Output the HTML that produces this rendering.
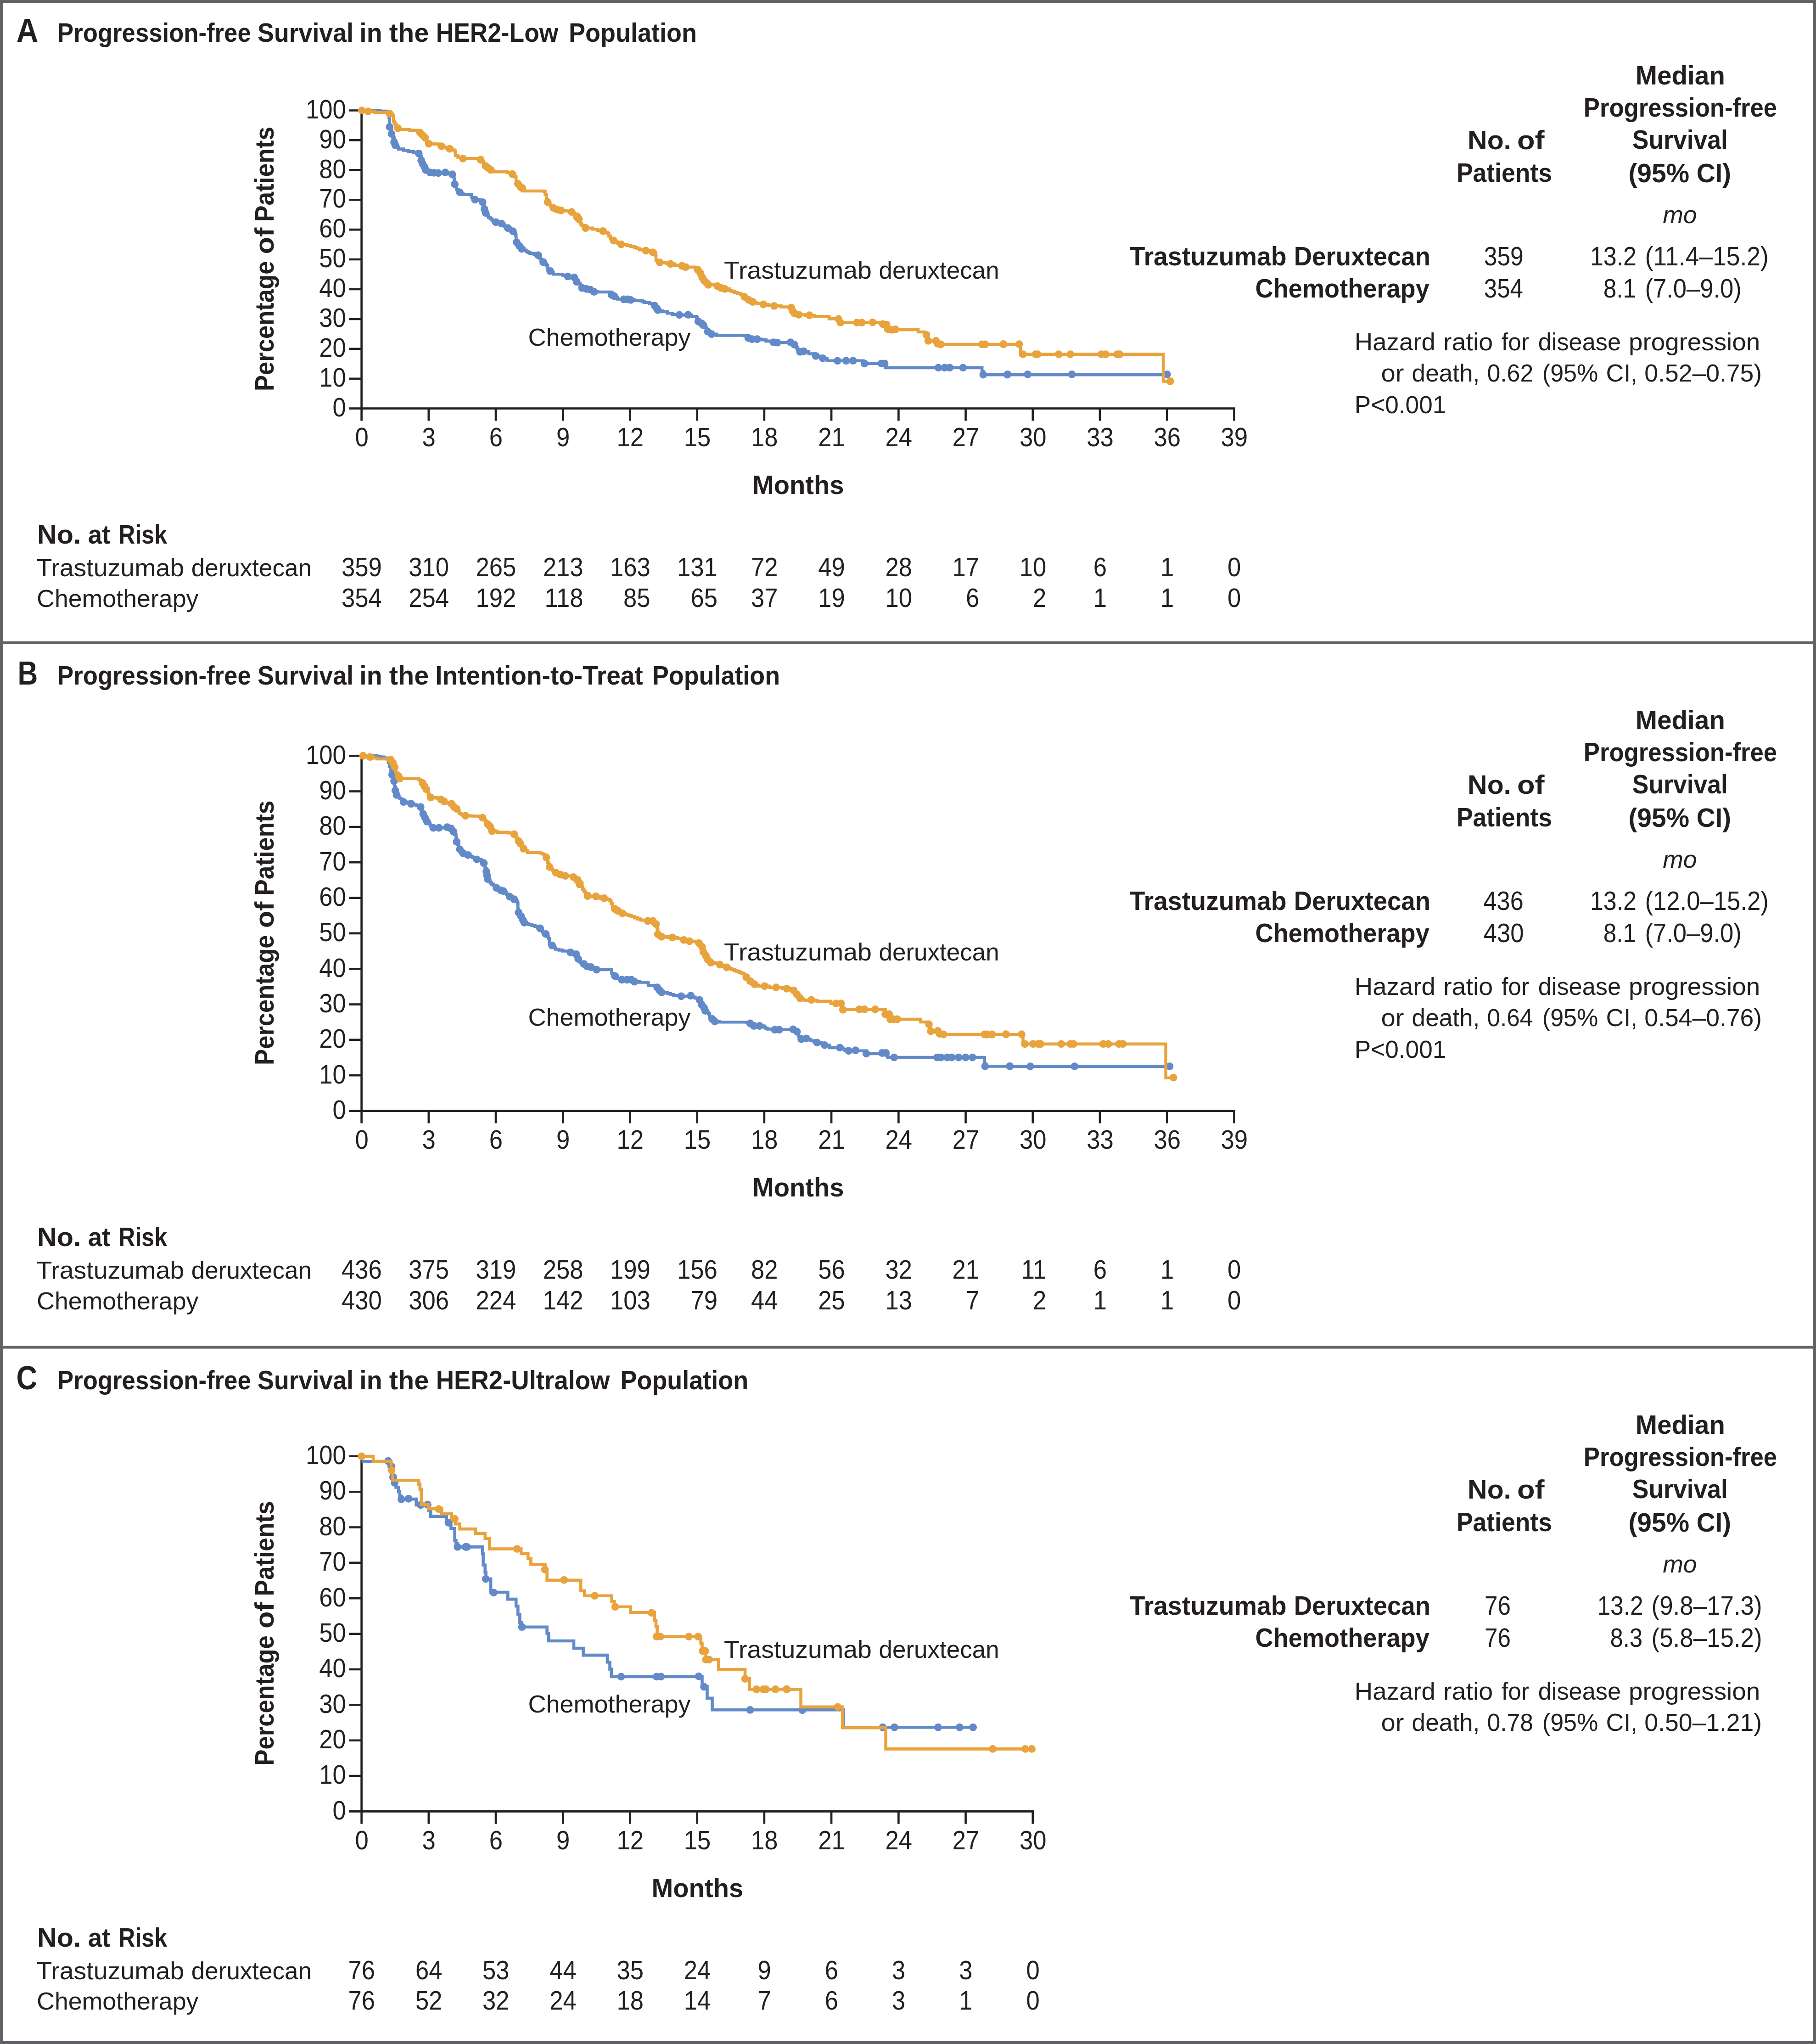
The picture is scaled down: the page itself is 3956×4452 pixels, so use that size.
<!DOCTYPE html>
<html lang="en"><head><meta charset="utf-8"><title>Progression-free Survival</title>
<style>html,body{margin:0;padding:0;background:#fff}body{width:3956px;height:4452px;overflow:hidden}</style>
</head><body>
<svg width="3956" height="4452" viewBox="0 0 3956 4452" font-family="'Liberation Sans', sans-serif" fill="#231f20" style="display:block">
<rect x="0" y="0" width="3956" height="4452" fill="#fff"/>
<path d="M3.1 3.1H3952.9V4448.9H3.1ZM0 1400H3956M0 2934.4H3956" stroke="#606266" stroke-width="6.2" fill="none"/>
<path d="M787.6 238.2V916.6M760.3 889.6H2690.8M760.3 240.5H787.6M760.3 305.4H787.6M760.3 370.3H787.6M760.3 435.2H787.6M760.3 500.1H787.6M760.3 565.0H787.6M760.3 630.0H787.6M760.3 694.9H787.6M760.3 759.8H787.6M760.3 824.7H787.6M933.8 889.6V916.6M1080.0 889.6V916.6M1226.3 889.6V916.6M1372.5 889.6V916.6M1518.7 889.6V916.6M1664.9 889.6V916.6M1811.1 889.6V916.6M1957.4 889.6V916.6M2103.6 889.6V916.6M2249.8 889.6V916.6M2396.0 889.6V916.6M2542.2 889.6V916.6M2688.5 889.6V916.6" stroke="#231f20" stroke-width="4.6" fill="none"/>
<path d="M788.3 240.6H818.5H828.2V242.0H843.3V244.8H845.4V250.3H847.5V255.8H848.8V276.4H850.9V284.0H853.0V291.6H855.7V299.8H858.5V309.5H861.2V316.4H864.7V320.5H868.1V324.6H879.1V327.4H890.1V330.1H901.1V332.3H912.2V334.3H914.9V341.1H917.7V349.4H920.4V356.3H922.5V359.8H924.5V363.2H927.3V370.1H932.1V372.9H936.9V375.6H945.2V376.4H954.8V376.9H961.7H970.0H978.2V378.3H985.1V379.7H987.2V385.2H989.3V390.7H990.6V401.2H992.7V406.9H994.8V412.7H998.2V415.8H1001.6V418.8H1005.0V421.2H1008.5V423.7H1022.3V424.3H1027.8V430.6H1031.2V432.7H1034.7V434.8H1044.3V436.1H1047.8V438.2H1051.2V440.3H1054.0V448.5H1055.3V455.4H1058.1V463.7H1060.8V468.5H1063.6V473.3H1067.8V476.8H1071.9V480.2H1076.0V482.0H1080.1V483.8H1092.5V487.1H1096.0V489.9H1099.4V492.6H1102.8V494.6H1106.3V496.7H1111.8V500.1H1117.3V503.6H1120.0V507.8H1122.8V511.9H1124.2V522.9H1125.5V527.8H1128.2V531.5H1131.0V535.3H1133.8V538.7H1136.6V542.1H1141.4V544.9H1146.2V547.6H1150.3V549.7H1154.4V551.8H1163.3V553.8H1172.3V555.9H1174.4V560.0H1176.5V564.2H1180.0V567.6H1183.4V571.0H1186.8V574.5H1190.2V577.9H1193.0V586.2H1198.5V590.3H1202.0V593.8H1205.4V597.2H1226.0V599.4H1237.0V602.2H1250.8V604.1H1253.5V608.9H1256.3V613.7H1260.2V618.2H1264.0V622.7H1267.9V627.2H1277.5V629.4H1285.8V630.8H1289.9V633.1H1294.1V635.5H1302.3V636.0H1327.1H1332.6V642.4H1338.1V645.1H1341.5V648.3H1345.0V651.5H1358.8V652.0H1367.0H1373.9V653.4H1382.2V654.8H1395.9V655.3H1400.1V657.1H1404.2V658.9H1415.2V661.6H1420.7V663.7H1426.2V665.8H1430.3V671.3H1433.1V675.4H1437.9V677.2H1442.7V679.0H1453.7V682.3H1464.8V685.0H1479.9V685.9H1492.3V686.4H1499.2H1506.1V689.2H1517.1V691.9H1519.2V696.0H1521.2V700.2H1524.7V702.2H1528.1V704.3H1532.2V708.4H1537.7V714.0H1539.8V718.1H1541.9V722.2H1546.0V725.0H1550.1V727.7H1561.1V730.5H1621.7V731.3H1625.8V733.6H1630.0V736.0H1638.2V738.7H1649.2H1658.9V740.1H1668.5V742.9H1679.5V744.2H1685.0V745.6H1693.3V746.2H1704.3H1718.1H1722.2H1726.3V748.4H1730.5V750.6H1734.6V756.6H1736.7V760.8H1738.7V764.9H1742.8V766.3H1750.0H1759.2H1761.9V770.6H1771.6V772.0H1777.1V775.3H1782.6V776.1H1787.4V778.2H1792.2V780.3H1800.5V781.6H1801.9V785.8H1815.6H1824.4H1843.2H1858.3H1876.2H1880.3V788.5H1883.1V791.8H1898.2H1920.3H1927.1H1928.5V800.9H2030.4H2044.2H2057.9H2068.9H2097.9H2137.8H2139.2V809.2H2141.9V816.1H2168.1H2194.2H2200.0H2542.3" stroke="#6289c8" stroke-width="6.6" fill="none"/>
<g fill="#6289c8"><circle cx="848.8" cy="276.4" r="8.4"/><circle cx="853.0" cy="291.6" r="8.4"/><circle cx="858.5" cy="309.5" r="8.4"/><circle cx="861.2" cy="316.4" r="8.4"/><circle cx="912.2" cy="334.3" r="8.4"/><circle cx="917.7" cy="349.4" r="8.4"/><circle cx="920.4" cy="356.3" r="8.4"/><circle cx="924.5" cy="363.2" r="8.4"/><circle cx="927.3" cy="370.1" r="8.4"/><circle cx="936.9" cy="375.6" r="8.4"/><circle cx="945.2" cy="376.4" r="8.4"/><circle cx="954.8" cy="376.9" r="8.4"/><circle cx="970.0" cy="375.6" r="8.4"/><circle cx="985.1" cy="379.7" r="8.4"/><circle cx="990.6" cy="401.2" r="8.4"/><circle cx="1001.6" cy="418.8" r="8.4"/><circle cx="1034.7" cy="434.8" r="8.4"/><circle cx="1051.2" cy="440.3" r="8.4"/><circle cx="1055.3" cy="455.4" r="8.4"/><circle cx="1058.1" cy="463.7" r="8.4"/><circle cx="1080.1" cy="483.8" r="8.4"/><circle cx="1092.5" cy="487.1" r="8.4"/><circle cx="1106.3" cy="496.7" r="8.4"/><circle cx="1117.3" cy="503.6" r="8.4"/><circle cx="1125.5" cy="527.8" r="8.4"/><circle cx="1131.0" cy="535.3" r="8.4"/><circle cx="1136.6" cy="542.1" r="8.4"/><circle cx="1172.3" cy="555.9" r="8.4"/><circle cx="1183.4" cy="571.0" r="8.4"/><circle cx="1198.5" cy="590.3" r="8.4"/><circle cx="1237.0" cy="602.2" r="8.4"/><circle cx="1250.8" cy="604.1" r="8.4"/><circle cx="1256.3" cy="613.7" r="8.4"/><circle cx="1267.9" cy="627.2" r="8.4"/><circle cx="1277.5" cy="629.4" r="8.4"/><circle cx="1285.8" cy="630.8" r="8.4"/><circle cx="1294.1" cy="635.5" r="8.4"/><circle cx="1332.6" cy="642.4" r="8.4"/><circle cx="1338.1" cy="645.1" r="8.4"/><circle cx="1358.8" cy="652.0" r="8.4"/><circle cx="1367.0" cy="652.0" r="8.4"/><circle cx="1373.9" cy="653.4" r="8.4"/><circle cx="1426.2" cy="665.8" r="8.4"/><circle cx="1430.3" cy="671.3" r="8.4"/><circle cx="1433.1" cy="675.4" r="8.4"/><circle cx="1479.9" cy="685.9" r="8.4"/><circle cx="1499.2" cy="685.6" r="8.4"/><circle cx="1521.2" cy="700.2" r="8.4"/><circle cx="1528.1" cy="704.3" r="8.4"/><circle cx="1532.2" cy="708.4" r="8.4"/><circle cx="1541.9" cy="722.2" r="8.4"/><circle cx="1550.1" cy="727.7" r="8.4"/><circle cx="1630.0" cy="736.0" r="8.4"/><circle cx="1638.2" cy="738.7" r="8.4"/><circle cx="1649.2" cy="738.7" r="8.4"/><circle cx="1685.0" cy="745.6" r="8.4"/><circle cx="1693.3" cy="746.2" r="8.4"/><circle cx="1722.2" cy="745.6" r="8.4"/><circle cx="1730.5" cy="750.6" r="8.4"/><circle cx="1742.8" cy="766.3" r="8.4"/><circle cx="1750.9" cy="765.1" r="8.4"/><circle cx="1777.1" cy="775.3" r="8.4"/><circle cx="1792.2" cy="780.3" r="8.4"/><circle cx="1824.4" cy="785.8" r="8.4"/><circle cx="1843.2" cy="785.8" r="8.4"/><circle cx="1858.3" cy="785.5" r="8.4"/><circle cx="1883.1" cy="791.8" r="8.4"/><circle cx="1920.3" cy="791.8" r="8.4"/><circle cx="1927.1" cy="791.8" r="8.4"/><circle cx="2044.2" cy="800.9" r="8.4"/><circle cx="2057.9" cy="800.9" r="8.4"/><circle cx="2068.9" cy="800.9" r="8.4"/><circle cx="2097.9" cy="800.9" r="8.4"/><circle cx="2141.9" cy="816.1" r="8.4"/><circle cx="2194.2" cy="816.1" r="8.4"/><circle cx="2194.9" cy="815.4" r="8.4"/><circle cx="2238.7" cy="815.4" r="8.4"/><circle cx="2335.0" cy="815.4" r="8.4"/><circle cx="2542.3" cy="815.4" r="8.4"/></g>
<path d="M788.3 240.6H802.0V242.6H815.8V245.3H843.3V246.2H848.8V247.5H854.3V251.7H857.1V264.1H859.9V269.6H862.6V275.1H865.1V278.5H867.6V281.9H875.0H892.2V283.7H909.4V285.5H914.9V288.8H920.4V294.3H925.9V299.8H928.7V308.1H934.2V313.1H945.2V313.6H956.2V316.9H961.7V318.6H967.2V320.5H972.7V322.4H979.6V324.1H984.5V326.5H989.3V328.8H992.0V338.4H997.5V342.5H1008.5V345.3H1019.5H1044.3H1047.1V348.0H1049.8V351.4H1052.6V354.9H1055.3V358.4H1058.1V361.8H1063.6V365.9H1069.1V370.1H1072.5V372.1H1076.0V374.2H1104.9V375.6H1115.9V379.1H1121.4V385.2H1124.2V396.2H1128.3V400.3H1131.0V403.8H1133.8V407.2H1137.9V410.0V416.0H1184.7V416.9H1187.5V423.7H1190.2V434.8H1193.0V440.3H1195.8V444.4H1198.5V448.5H1202.0V450.6H1205.4V452.7H1213.6V456.2H1221.9V458.2H1231.5V459.5H1245.3V461.7H1248.8V464.0H1252.2V466.4H1257.7V471.9H1260.5V481.6H1263.9V486.4H1267.3V491.2H1271.4V493.9H1275.6V496.7H1291.3V499.2H1302.3V501.9H1313.3V503.3H1318.2V506.1H1323.0V508.8H1326.4V514.3H1329.8V519.8H1333.2V521.9H1336.7V524.0H1340.8V526.8H1345.0V529.5H1353.2V532.2H1365.6V535.0H1373.9V537.0H1382.2V539.1H1387.7V541.6H1393.2V544.1H1406.9V546.0H1414.5V547.8H1422.1V549.6H1427.6V555.6H1429.0V566.7H1433.1V569.2H1437.2V571.6H1451.0V573.5H1460.6V574.9H1470.3V577.7H1485.4V579.0H1493.7V581.8H1506.1H1514.3V583.2H1519.8V587.3H1522.5V590.8H1525.3V594.2H1527.4V599.0H1529.5V603.8H1531.5V607.2H1533.6V610.7H1539.1V616.2H1543.2V620.3H1552.9H1562.5V623.1H1566.7V625.2H1570.8V627.2H1579.0V629.4H1588.7V632.7H1594.2V634.8H1599.7V636.9H1606.6V639.0H1613.4V641.0H1617.6V643.8H1621.7V646.5H1626.5V650.0H1631.3V653.4H1635.4V655.5H1639.6V657.5H1644.4V659.5H1649.2V661.6H1663.0V663.0H1674.0V665.8H1686.4V666.3H1701.5V668.5H1723.6V669.9H1726.3V676.8H1730.5V682.3H1740.1V685.6H1750.0H1755.1V687.2H1763.3H1774.3V689.4H1804.6H1806.0V694.4H1821.1H1826.7V694.9H1828.8V698.8H1830.8V702.6H1843.2H1866.6H1877.6H1890.0H1901.0H1914.8H1923.0V705.9H1931.3V707.3H1934.0V716.9H1942.3V718.3H1950.6H1975.3H1998.7H2000.1V723.0H2011.1H2014.5V726.1H2018.0V729.3H2020.8V736.2H2022.1V742.3H2030.4V743.1H2038.7H2042.8V748.6H2049.7V750.0H2085.5H2139.2H2146.0H2186.0H2200.0H2220.2H2223.0V771.6H2228.5H2534.1V830.5H2549.2" stroke="#e8a33d" stroke-width="6.6" fill="none"/>
<g fill="#e8a33d"><circle cx="788.3" cy="240.6" r="8.4"/><circle cx="802.0" cy="242.6" r="8.4"/><circle cx="848.8" cy="247.5" r="8.4"/><circle cx="866.7" cy="279.2" r="8.4"/><circle cx="914.9" cy="288.8" r="8.4"/><circle cx="920.4" cy="294.3" r="8.4"/><circle cx="925.9" cy="299.8" r="8.4"/><circle cx="934.2" cy="313.1" r="8.4"/><circle cx="961.7" cy="318.6" r="8.4"/><circle cx="979.6" cy="324.1" r="8.4"/><circle cx="1008.5" cy="345.3" r="8.4"/><circle cx="1047.1" cy="348.0" r="8.4"/><circle cx="1058.1" cy="361.8" r="8.4"/><circle cx="1063.6" cy="365.9" r="8.4"/><circle cx="1069.1" cy="370.1" r="8.4"/><circle cx="1115.9" cy="379.1" r="8.4"/><circle cx="1128.3" cy="400.3" r="8.4"/><circle cx="1133.8" cy="407.2" r="8.4"/><circle cx="1137.9" cy="410.0" r="8.4"/><circle cx="1193.0" cy="440.3" r="8.4"/><circle cx="1205.4" cy="452.7" r="8.4"/><circle cx="1213.6" cy="456.2" r="8.4"/><circle cx="1221.9" cy="458.2" r="8.4"/><circle cx="1245.3" cy="461.7" r="8.4"/><circle cx="1257.7" cy="471.9" r="8.4"/><circle cx="1275.6" cy="496.7" r="8.4"/><circle cx="1256.9" cy="473.0" r="8.4"/><circle cx="1261.0" cy="477.2" r="8.4"/><circle cx="1275.6" cy="496.4" r="8.4"/><circle cx="1313.3" cy="503.3" r="8.4"/><circle cx="1336.7" cy="524.0" r="8.4"/><circle cx="1353.2" cy="532.2" r="8.4"/><circle cx="1406.9" cy="546.0" r="8.4"/><circle cx="1422.1" cy="549.6" r="8.4"/><circle cx="1437.2" cy="571.6" r="8.4"/><circle cx="1460.6" cy="574.9" r="8.4"/><circle cx="1485.4" cy="579.0" r="8.4"/><circle cx="1493.7" cy="581.8" r="8.4"/><circle cx="1519.8" cy="587.3" r="8.4"/><circle cx="1525.3" cy="594.2" r="8.4"/><circle cx="1529.5" cy="603.8" r="8.4"/><circle cx="1533.6" cy="610.7" r="8.4"/><circle cx="1539.1" cy="616.2" r="8.4"/><circle cx="1543.2" cy="620.3" r="8.4"/><circle cx="1562.5" cy="623.1" r="8.4"/><circle cx="1570.8" cy="627.2" r="8.4"/><circle cx="1579.0" cy="629.4" r="8.4"/><circle cx="1621.7" cy="646.5" r="8.4"/><circle cx="1631.3" cy="653.4" r="8.4"/><circle cx="1639.6" cy="657.5" r="8.4"/><circle cx="1663.0" cy="663.0" r="8.4"/><circle cx="1686.4" cy="666.3" r="8.4"/><circle cx="1723.6" cy="669.9" r="8.4"/><circle cx="1726.3" cy="676.8" r="8.4"/><circle cx="1730.5" cy="682.3" r="8.4"/><circle cx="1740.1" cy="685.6" r="8.4"/><circle cx="1763.3" cy="686.7" r="8.4"/><circle cx="1826.7" cy="694.9" r="8.4"/><circle cx="1830.8" cy="702.6" r="8.4"/><circle cx="1866.6" cy="702.6" r="8.4"/><circle cx="1877.6" cy="702.6" r="8.4"/><circle cx="1901.0" cy="702.1" r="8.4"/><circle cx="1923.0" cy="705.9" r="8.4"/><circle cx="1931.3" cy="707.3" r="8.4"/><circle cx="1934.0" cy="716.9" r="8.4"/><circle cx="1942.3" cy="718.3" r="8.4"/><circle cx="1950.6" cy="717.5" r="8.4"/><circle cx="2018.0" cy="729.3" r="8.4"/><circle cx="2022.1" cy="742.3" r="8.4"/><circle cx="2038.7" cy="742.3" r="8.4"/><circle cx="2042.8" cy="748.6" r="8.4"/><circle cx="2049.7" cy="750.0" r="8.4"/><circle cx="2139.2" cy="750.0" r="8.4"/><circle cx="2146.0" cy="750.0" r="8.4"/><circle cx="2186.0" cy="749.7" r="8.4"/><circle cx="2185.8" cy="749.6" r="8.4"/><circle cx="2220.2" cy="749.6" r="8.4"/><circle cx="2228.5" cy="771.6" r="8.4"/><circle cx="2256.0" cy="771.6" r="8.4"/><circle cx="2260.1" cy="771.6" r="8.4"/><circle cx="2306.4" cy="771.6" r="8.4"/><circle cx="2331.7" cy="771.6" r="8.4"/><circle cx="2399.2" cy="771.6" r="8.4"/><circle cx="2408.8" cy="771.6" r="8.4"/><circle cx="2433.6" cy="771.6" r="8.4"/><circle cx="2439.1" cy="771.6" r="8.4"/><circle cx="2549.2" cy="830.5" r="8.4"/></g>
<path d="M787.6 1644.0V2446.6M760.3 2419.6H2690.8M760.3 1646.3H787.6M760.3 1723.6H787.6M760.3 1801.0H787.6M760.3 1878.3H787.6M760.3 1955.6H787.6M760.3 2032.9H787.6M760.3 2110.3H787.6M760.3 2187.6H787.6M760.3 2264.9H787.6M760.3 2342.3H787.6M933.8 2419.6V2446.6M1080.0 2419.6V2446.6M1226.3 2419.6V2446.6M1372.5 2419.6V2446.6M1518.7 2419.6V2446.6M1664.9 2419.6V2446.6M1811.1 2419.6V2446.6M1957.4 2419.6V2446.6M2103.6 2419.6V2446.6M2249.8 2419.6V2446.6M2396.0 2419.6V2446.6M2542.2 2419.6V2446.6M2688.5 2419.6V2446.6" stroke="#231f20" stroke-width="4.6" fill="none"/>
<path d="M791.0 1646.2H821.3V1647.5H829.6V1648.9H836.5V1651.0H843.3V1653.0H846.0V1661.3H848.8V1669.6H851.5V1678.5H854.3V1687.5H856.4V1694.3H858.5V1701.2H859.8V1713.6H861.2V1721.9H864.0V1731.5H867.5V1735.7H870.9V1739.8H875.0V1743.2H879.1V1746.7H888.8V1749.4H895.6V1750.8H901.2V1752.8H906.7V1754.9H916.3V1757.7H917.7V1765.9H919.8V1769.3H921.8V1772.8H923.8V1776.9H925.9V1781.1H928.0V1785.2H930.1V1789.3H933.5V1793.4H936.9V1797.6H940.3V1800.3H943.8V1803.1H956.2H967.2H974.1H982.4V1804.5H985.1V1808.0H987.9V1811.4H990.6V1817.6H993.4V1823.7H994.8V1833.4H996.8V1839.6H998.9V1845.8H1001.6V1849.9H1005.0V1854.1H1008.5V1858.2H1014.0V1860.2H1019.5V1862.3H1024.3V1865.0H1029.2V1867.8H1034.0V1869.8H1038.8V1871.9H1048.4V1874.7H1054.0V1880.2H1056.7V1891.2H1059.5V1898.1H1060.8V1906.3H1062.2V1914.6H1065.0V1918.8H1067.7V1922.9H1071.2V1925.7H1074.6V1928.4H1078.0V1931.2H1081.5V1933.9H1086.3V1936.7H1091.1V1939.4H1096.6V1940.8H1100.0V1944.2H1103.5V1947.6H1107.0V1950.3H1110.4V1953.1H1115.2V1955.9H1120.0V1958.7H1123.5V1962.8H1126.9V1966.9H1128.3V1980.7H1129.7V1987.6H1132.5V1991.7H1135.2V1995.8H1137.2V1999.9H1139.3V2004.1H1142.1V2009.6H1146.9V2011.7H1151.7V2013.7H1158.6V2015.8H1165.5V2017.9H1171.0V2020.0H1176.5V2022.0H1179.2V2026.1H1182.0V2030.2H1185.5V2032.3H1188.9V2034.4H1191.7V2039.2H1194.4V2044.0H1197.1V2055.0H1202.6V2059.2H1206.0V2063.3H1209.5V2067.4H1217.8V2069.4H1226.0V2071.5H1242.6V2074.3H1248.8V2076.4H1254.9V2078.4H1257.1V2083.0H1259.3V2087.7H1261.6V2092.3H1263.8V2096.9H1272.0V2099.6H1275.5V2102.3H1278.9V2105.1H1287.2V2106.5H1290.7V2108.6H1294.1V2110.6H1299.6V2112.0H1313.3H1329.8H1332.6V2120.3H1336.0V2123.1H1339.5V2125.8H1345.0V2131.3H1354.6V2134.0H1365.6H1375.3H1378.8V2136.1H1382.2V2138.2H1393.2V2139.5H1409.7V2140.9H1412.4V2146.4H1426.2H1431.7V2150.6H1434.5V2154.0H1437.2V2157.4H1441.4V2161.6H1453.7V2164.3H1460.6V2166.4H1467.5V2168.4H1484.0V2169.8H1496.4H1504.7H1509.5V2171.9H1514.3V2174.0H1519.2V2176.1H1524.0V2178.1H1526.0V2182.9H1528.1V2187.7H1530.8V2191.1H1533.6V2194.6H1536.3V2201.5H1539.8V2204.9H1543.2V2208.4H1546.0V2216.6H1551.5V2219.4H1557.0V2224.9H1566.6V2226.3H1627.2V2227.1H1634.1V2229.0H1638.2V2231.8H1642.3V2234.5H1654.7H1664.4V2237.3H1667.8V2239.4H1671.3V2241.4H1687.8V2242.8H1697.4H1712.6H1727.7H1731.8V2244.9H1736.0V2246.9H1738.0V2252.4H1740.1V2257.9H1745.6V2263.4H1750.0H1756.4V2263.5H1764.7H1766.1V2266.8H1772.9V2268.9H1779.8V2270.9H1789.5V2273.7H1796.4V2276.4H1806.0V2277.8H1807.4V2281.9H1821.1H1829.4H1834.9V2284.7H1840.4V2287.4H1848.7V2288.8H1863.8H1881.7H1887.2V2294.9H1903.7H1921.6H1929.9H1932.0V2298.8H1934.0V2302.6H1947.8V2303.1H1975.3H2143.3H2144.7V2316.3H2146.0V2322.4H2168.1H2200.0H2202.3V2322.6H2547.9" stroke="#6289c8" stroke-width="6.6" fill="none"/>
<g fill="#6289c8"><circle cx="854.3" cy="1687.5" r="8.4"/><circle cx="858.5" cy="1701.2" r="8.4"/><circle cx="861.2" cy="1721.9" r="8.4"/><circle cx="864.0" cy="1731.5" r="8.4"/><circle cx="879.1" cy="1746.7" r="8.4"/><circle cx="895.6" cy="1750.8" r="8.4"/><circle cx="916.3" cy="1757.7" r="8.4"/><circle cx="921.8" cy="1772.8" r="8.4"/><circle cx="925.9" cy="1781.1" r="8.4"/><circle cx="930.1" cy="1789.3" r="8.4"/><circle cx="943.8" cy="1803.1" r="8.4"/><circle cx="956.2" cy="1803.1" r="8.4"/><circle cx="974.1" cy="1801.7" r="8.4"/><circle cx="982.4" cy="1804.5" r="8.4"/><circle cx="987.9" cy="1811.4" r="8.4"/><circle cx="994.8" cy="1833.4" r="8.4"/><circle cx="1001.6" cy="1849.9" r="8.4"/><circle cx="1008.5" cy="1858.2" r="8.4"/><circle cx="1019.5" cy="1862.3" r="8.4"/><circle cx="1038.8" cy="1871.9" r="8.4"/><circle cx="1054.0" cy="1880.2" r="8.4"/><circle cx="1059.5" cy="1898.1" r="8.4"/><circle cx="1060.8" cy="1906.3" r="8.4"/><circle cx="1062.2" cy="1914.6" r="8.4"/><circle cx="1081.5" cy="1933.9" r="8.4"/><circle cx="1091.1" cy="1939.4" r="8.4"/><circle cx="1096.6" cy="1940.8" r="8.4"/><circle cx="1110.4" cy="1953.1" r="8.4"/><circle cx="1120.0" cy="1958.7" r="8.4"/><circle cx="1129.7" cy="1987.6" r="8.4"/><circle cx="1135.2" cy="1995.8" r="8.4"/><circle cx="1139.3" cy="2004.1" r="8.4"/><circle cx="1142.1" cy="2009.6" r="8.4"/><circle cx="1176.5" cy="2022.0" r="8.4"/><circle cx="1188.9" cy="2034.4" r="8.4"/><circle cx="1202.6" cy="2059.2" r="8.4"/><circle cx="1242.6" cy="2074.3" r="8.4"/><circle cx="1254.9" cy="2078.4" r="8.4"/><circle cx="1255.5" cy="2079.0" r="8.4"/><circle cx="1259.6" cy="2088.6" r="8.4"/><circle cx="1272.0" cy="2099.6" r="8.4"/><circle cx="1278.9" cy="2105.1" r="8.4"/><circle cx="1287.2" cy="2106.5" r="8.4"/><circle cx="1299.6" cy="2112.0" r="8.4"/><circle cx="1339.5" cy="2125.8" r="8.4"/><circle cx="1354.6" cy="2134.0" r="8.4"/><circle cx="1365.6" cy="2134.0" r="8.4"/><circle cx="1375.3" cy="2134.0" r="8.4"/><circle cx="1382.2" cy="2138.2" r="8.4"/><circle cx="1431.7" cy="2150.6" r="8.4"/><circle cx="1437.2" cy="2157.4" r="8.4"/><circle cx="1441.4" cy="2161.6" r="8.4"/><circle cx="1484.0" cy="2169.8" r="8.4"/><circle cx="1504.7" cy="2168.7" r="8.4"/><circle cx="1524.0" cy="2178.1" r="8.4"/><circle cx="1528.1" cy="2187.7" r="8.4"/><circle cx="1533.6" cy="2194.6" r="8.4"/><circle cx="1536.3" cy="2201.5" r="8.4"/><circle cx="1551.5" cy="2219.4" r="8.4"/><circle cx="1557.0" cy="2224.9" r="8.4"/><circle cx="1634.1" cy="2229.0" r="8.4"/><circle cx="1642.3" cy="2234.5" r="8.4"/><circle cx="1654.7" cy="2234.5" r="8.4"/><circle cx="1687.8" cy="2242.8" r="8.4"/><circle cx="1697.4" cy="2242.8" r="8.4"/><circle cx="1727.7" cy="2242.0" r="8.4"/><circle cx="1736.0" cy="2246.9" r="8.4"/><circle cx="1745.6" cy="2263.4" r="8.4"/><circle cx="1756.4" cy="2261.8" r="8.4"/><circle cx="1779.8" cy="2270.9" r="8.4"/><circle cx="1796.4" cy="2276.4" r="8.4"/><circle cx="1829.4" cy="2281.9" r="8.4"/><circle cx="1848.7" cy="2288.8" r="8.4"/><circle cx="1863.8" cy="2287.7" r="8.4"/><circle cx="1887.2" cy="2294.9" r="8.4"/><circle cx="1921.6" cy="2293.5" r="8.4"/><circle cx="1929.9" cy="2293.5" r="8.4"/><circle cx="1947.8" cy="2303.1" r="8.4"/><circle cx="2041.4" cy="2303.1" r="8.4"/><circle cx="2049.7" cy="2303.1" r="8.4"/><circle cx="2063.4" cy="2303.1" r="8.4"/><circle cx="2073.1" cy="2303.1" r="8.4"/><circle cx="2088.2" cy="2303.1" r="8.4"/><circle cx="2103.4" cy="2303.1" r="8.4"/><circle cx="2118.5" cy="2303.1" r="8.4"/><circle cx="2146.0" cy="2322.4" r="8.4"/><circle cx="2200.0" cy="2322.4" r="8.4"/><circle cx="2199.6" cy="2322.6" r="8.4"/><circle cx="2244.4" cy="2322.6" r="8.4"/><circle cx="2340.8" cy="2322.6" r="8.4"/><circle cx="2547.9" cy="2322.6" r="8.4"/></g>
<path d="M791.0 1646.2H806.2V1648.9H813.8V1651.0H821.3V1653.0H843.3V1653.6H851.0V1654.4H853.4V1657.8H855.7V1661.3H857.8V1666.1H859.8V1670.9H862.6V1683.3H865.4V1686.8H868.1V1690.2H870.9V1695.7H890.1H912.2V1698.5H916.3V1702.0H920.4V1705.4H922.5V1708.8H924.5V1712.2H926.6V1715.7H928.7V1719.1H930.8V1724.6H932.8V1730.1H935.5V1733.5H938.3V1737.0H950.7V1738.4H960.3V1741.1H963.8V1743.2H967.2V1745.3H971.4V1747.3H975.5V1749.4H983.7V1750.8H986.5V1754.2H989.3V1757.7H994.8V1761.8H997.5V1766.6H1000.3V1771.4H1004.4V1773.5H1008.5V1775.6H1014.0V1776.9H1027.8V1777.5H1041.6V1778.3H1051.2V1781.1H1054.0V1784.5H1056.7V1788.0H1059.5V1791.4H1062.2V1794.8H1067.7V1800.3H1069.8V1805.2H1071.9V1810.0H1082.9V1812.7H1107.6V1814.1H1120.0V1816.9H1122.1V1821.0H1124.2V1825.1H1127.0V1828.5H1129.7V1832.0H1133.8V1837.5H1137.2V1843.0H1140.7V1848.5H1144.8V1852.7H1148.9V1856.8H1176.5V1858.2H1181.3V1860.2H1186.1V1862.3H1190.2V1867.8H1193.0V1878.8H1195.0V1883.6H1197.1V1888.4H1200.5V1892.6H1204.0V1896.7H1207.5V1898.8H1210.9V1900.8H1215.7V1902.9H1220.5V1905.0H1231.5V1907.7H1242.6H1249.4V1910.5H1253.6V1914.0H1257.7V1917.4H1260.5V1920.8H1263.2V1924.2H1266.0V1930.4H1268.7V1936.6H1272.2V1942.1H1275.6V1947.6H1280.0V1951.8H1280.3H1288.5V1952.9H1298.2H1307.8V1956.4H1316.1H1322.3V1959.2H1328.5V1961.9H1331.2V1968.1H1334.0V1974.3H1339.5V1979.8H1343.0V1981.9H1346.4V1984.0H1351.2V1986.8H1356.0V1989.5H1362.2V1991.5H1368.4V1993.6H1375.3V1996.3H1382.2V1999.1H1389.1V2001.6H1395.9V2004.1H1411.1V2006.0H1422.1H1425.5V2009.5H1429.0V2012.9H1431.7V2023.9H1433.1V2034.9H1437.2V2037.7H1441.4V2040.4H1453.7V2041.8H1464.8H1475.8V2044.5H1489.5V2047.3H1501.9V2050.1H1514.3V2051.4H1522.6V2054.2H1526.0V2058.3H1529.5V2062.4H1532.2V2073.5H1535.0V2077.6H1537.7V2081.7H1539.8V2085.8H1541.9V2090.0H1545.3V2093.4H1548.7V2096.9H1558.4V2098.2H1568.0V2101.0H1572.2V2103.1H1576.3V2105.1H1583.1V2107.0H1588.7V2109.5H1594.2V2112.0H1599.7V2114.1H1605.2V2116.1H1610.7V2118.2H1616.2V2120.3H1621.0V2124.4H1625.8V2128.5H1629.9V2132.7H1634.1V2136.8H1638.9V2140.2H1643.7V2143.7H1647.8V2145.8H1652.0V2147.8H1665.7H1676.8V2150.6H1690.5H1704.3V2152.8H1713.9V2153.3H1721.5V2155.4H1729.1V2157.4H1732.5V2161.6H1736.0V2165.7H1739.4V2169.8H1742.8V2174.0H1746.4V2176.1H1750.0V2178.1H1755.1V2178.7H1767.5H1779.8V2180.9H1808.8H1810.1V2185.6H1821.1H1832.2H1833.5V2195.2H1836.3V2198.8H1851.4H1925.8H1928.5V2209.0H1936.8H1939.5V2220.0H1946.4H2004.2H2005.6V2226.0H2016.6H2020.0V2228.5H2023.5V2231.0H2024.9V2239.3H2027.6V2246.1H2034.5V2247.5H2042.8H2046.9V2251.6H2055.2V2253.0H2085.5H2200.0H2202.3H2225.7H2228.5V2273.9H2232.6H2539.6V2347.7H2556.1" stroke="#e8a33d" stroke-width="6.6" fill="none"/>
<g fill="#e8a33d"><circle cx="791.0" cy="1646.2" r="8.4"/><circle cx="806.2" cy="1648.9" r="8.4"/><circle cx="851.0" cy="1654.4" r="8.4"/><circle cx="855.7" cy="1661.3" r="8.4"/><circle cx="859.8" cy="1670.9" r="8.4"/><circle cx="868.1" cy="1690.2" r="8.4"/><circle cx="870.9" cy="1695.7" r="8.4"/><circle cx="920.4" cy="1705.4" r="8.4"/><circle cx="924.5" cy="1712.2" r="8.4"/><circle cx="928.7" cy="1719.1" r="8.4"/><circle cx="938.3" cy="1737.0" r="8.4"/><circle cx="960.3" cy="1741.1" r="8.4"/><circle cx="967.2" cy="1745.3" r="8.4"/><circle cx="983.7" cy="1750.8" r="8.4"/><circle cx="989.3" cy="1757.7" r="8.4"/><circle cx="994.8" cy="1761.8" r="8.4"/><circle cx="1014.0" cy="1776.9" r="8.4"/><circle cx="1051.2" cy="1781.1" r="8.4"/><circle cx="1062.2" cy="1794.8" r="8.4"/><circle cx="1067.7" cy="1800.3" r="8.4"/><circle cx="1071.9" cy="1810.0" r="8.4"/><circle cx="1120.0" cy="1816.9" r="8.4"/><circle cx="1129.7" cy="1832.0" r="8.4"/><circle cx="1133.8" cy="1837.5" r="8.4"/><circle cx="1140.7" cy="1848.5" r="8.4"/><circle cx="1190.2" cy="1867.8" r="8.4"/><circle cx="1197.1" cy="1888.4" r="8.4"/><circle cx="1210.9" cy="1900.8" r="8.4"/><circle cx="1220.5" cy="1905.0" r="8.4"/><circle cx="1231.5" cy="1907.7" r="8.4"/><circle cx="1249.4" cy="1910.5" r="8.4"/><circle cx="1257.7" cy="1917.4" r="8.4"/><circle cx="1263.2" cy="1924.2" r="8.4"/><circle cx="1280.0" cy="1951.8" r="8.4"/><circle cx="1258.3" cy="1916.5" r="8.4"/><circle cx="1262.4" cy="1926.2" r="8.4"/><circle cx="1280.3" cy="1950.9" r="8.4"/><circle cx="1298.2" cy="1952.3" r="8.4"/><circle cx="1316.1" cy="1956.4" r="8.4"/><circle cx="1339.5" cy="1979.8" r="8.4"/><circle cx="1346.4" cy="1984.0" r="8.4"/><circle cx="1356.0" cy="1989.5" r="8.4"/><circle cx="1411.1" cy="2006.0" r="8.4"/><circle cx="1422.1" cy="2006.0" r="8.4"/><circle cx="1429.0" cy="2012.9" r="8.4"/><circle cx="1433.1" cy="2034.9" r="8.4"/><circle cx="1441.4" cy="2040.4" r="8.4"/><circle cx="1464.8" cy="2041.8" r="8.4"/><circle cx="1489.5" cy="2047.3" r="8.4"/><circle cx="1501.9" cy="2050.1" r="8.4"/><circle cx="1522.6" cy="2054.2" r="8.4"/><circle cx="1529.5" cy="2062.4" r="8.4"/><circle cx="1532.2" cy="2073.5" r="8.4"/><circle cx="1537.7" cy="2081.7" r="8.4"/><circle cx="1541.9" cy="2090.0" r="8.4"/><circle cx="1548.7" cy="2096.9" r="8.4"/><circle cx="1568.0" cy="2101.0" r="8.4"/><circle cx="1583.1" cy="2107.0" r="8.4"/><circle cx="1625.8" cy="2128.5" r="8.4"/><circle cx="1634.1" cy="2136.8" r="8.4"/><circle cx="1643.7" cy="2143.7" r="8.4"/><circle cx="1665.7" cy="2147.8" r="8.4"/><circle cx="1690.5" cy="2150.6" r="8.4"/><circle cx="1713.9" cy="2153.3" r="8.4"/><circle cx="1729.1" cy="2157.4" r="8.4"/><circle cx="1736.0" cy="2165.7" r="8.4"/><circle cx="1742.8" cy="2174.0" r="8.4"/><circle cx="1767.5" cy="2177.9" r="8.4"/><circle cx="1821.1" cy="2185.6" r="8.4"/><circle cx="1832.2" cy="2185.6" r="8.4"/><circle cx="1836.3" cy="2199.3" r="8.4"/><circle cx="1872.1" cy="2198.5" r="8.4"/><circle cx="1883.1" cy="2198.5" r="8.4"/><circle cx="1906.5" cy="2198.5" r="8.4"/><circle cx="1928.5" cy="2209.0" r="8.4"/><circle cx="1936.8" cy="2209.0" r="8.4"/><circle cx="1939.5" cy="2220.0" r="8.4"/><circle cx="1946.4" cy="2220.0" r="8.4"/><circle cx="1954.7" cy="2220.0" r="8.4"/><circle cx="2023.5" cy="2231.0" r="8.4"/><circle cx="2027.6" cy="2246.1" r="8.4"/><circle cx="2042.8" cy="2245.3" r="8.4"/><circle cx="2046.9" cy="2251.6" r="8.4"/><circle cx="2055.2" cy="2253.0" r="8.4"/><circle cx="2144.7" cy="2253.0" r="8.4"/><circle cx="2150.2" cy="2253.0" r="8.4"/><circle cx="2161.2" cy="2253.0" r="8.4"/><circle cx="2191.5" cy="2253.0" r="8.4"/><circle cx="2150.0" cy="2253.2" r="8.4"/><circle cx="2161.0" cy="2253.2" r="8.4"/><circle cx="2191.3" cy="2252.7" r="8.4"/><circle cx="2225.7" cy="2252.7" r="8.4"/><circle cx="2232.6" cy="2273.9" r="8.4"/><circle cx="2250.5" cy="2273.9" r="8.4"/><circle cx="2261.5" cy="2273.9" r="8.4"/><circle cx="2267.0" cy="2273.9" r="8.4"/><circle cx="2311.9" cy="2273.9" r="8.4"/><circle cx="2331.7" cy="2273.9" r="8.4"/><circle cx="2338.6" cy="2273.9" r="8.4"/><circle cx="2403.3" cy="2273.9" r="8.4"/><circle cx="2414.3" cy="2273.9" r="8.4"/><circle cx="2437.7" cy="2273.9" r="8.4"/><circle cx="2446.0" cy="2273.9" r="8.4"/><circle cx="2556.1" cy="2347.1" r="8.4"/></g>
<path d="M787.6 3169.5V3972.4M760.3 3945.4H2252.1M760.3 3171.8H787.6M760.3 3249.2H787.6M760.3 3326.6H787.6M760.3 3403.9H787.6M760.3 3481.3H787.6M760.3 3558.6H787.6M760.3 3636.0H787.6M760.3 3713.3H787.6M760.3 3790.7H787.6M760.3 3868.0H787.6M933.8 3945.4V3972.4M1080.0 3945.4V3972.4M1226.3 3945.4V3972.4M1372.5 3945.4V3972.4M1518.7 3945.4V3972.4M1664.9 3945.4V3972.4M1811.1 3945.4V3972.4M1957.4 3945.4V3972.4M2103.6 3945.4V3972.4M2249.8 3945.4V3972.4" stroke="#231f20" stroke-width="4.6" fill="none"/>
<path d="M787.7 3183.3H847.5V3194.1H852.1V3217.5H856.5V3229.8H862.6V3239.5H868.1V3249.1H870.9V3258.8H874.4V3265.1H906.7V3278.0H934.2V3290.4H938.3V3302.8H972.7V3316.6H982.4V3329.0H990.6V3355.1H993.4V3362.0H996.1V3369.4H1051.2V3384.0H1052.6V3408.8H1056.7V3425.3H1058.6V3439.1H1069.1V3468.0H1106.3V3483.1H1124.2V3498.3H1128.3V3516.2H1132.4V3534.1H1135.7V3543.7H1191.6V3557.5H1195.2V3574.0H1250.0V3590.0H1270.6V3605.1H1323.0V3620.3H1328.5V3635.4H1331.8V3651.9H1529.5V3673.1H1540.5V3698.7H1551.5V3724.3H1837.1V3762.2H2119.6" stroke="#6289c8" stroke-width="6.6" fill="none"/>
<g fill="#6289c8"><circle cx="845.5" cy="3182.2" r="8.4"/><circle cx="853.0" cy="3194.1" r="8.4"/><circle cx="856.5" cy="3217.5" r="8.4"/><circle cx="859.8" cy="3229.8" r="8.4"/><circle cx="874.4" cy="3265.6" r="8.4"/><circle cx="890.1" cy="3264.3" r="8.4"/><circle cx="916.3" cy="3278.0" r="8.4"/><circle cx="931.4" cy="3277.2" r="8.4"/><circle cx="976.9" cy="3316.6" r="8.4"/><circle cx="996.7" cy="3369.4" r="8.4"/><circle cx="1014.0" cy="3369.4" r="8.4"/><circle cx="1017.3" cy="3369.4" r="8.4"/><circle cx="1058.1" cy="3439.1" r="8.4"/><circle cx="1075.4" cy="3468.8" r="8.4"/><circle cx="1137.1" cy="3543.7" r="8.4"/><circle cx="1353.2" cy="3651.9" r="8.4"/><circle cx="1430.3" cy="3651.9" r="8.4"/><circle cx="1440.0" cy="3651.9" r="8.4"/><circle cx="1522.0" cy="3651.1" r="8.4"/><circle cx="1533.6" cy="3674.0" r="8.4"/><circle cx="1634.1" cy="3724.3" r="8.4"/><circle cx="1747.9" cy="3724.8" r="8.4"/><circle cx="1923.0" cy="3762.2" r="8.4"/><circle cx="1948.4" cy="3762.2" r="8.4"/><circle cx="2043.6" cy="3762.2" r="8.4"/><circle cx="2090.5" cy="3762.2" r="8.4"/><circle cx="2119.6" cy="3762.2" r="8.4"/></g>
<path d="M787.7 3172.0H813.0V3183.0H852.1V3202.3H855.7V3224.3H912.2V3232.6H914.9V3243.6H917.7V3277.2H932.8V3286.3H962.3V3297.3H983.7V3308.3H992.0V3319.3H1001.6V3330.3H1036.1V3340.0H1056.7V3351.0H1066.3V3373.6H1135.2V3384.0H1150.3V3395.0H1156.4V3407.4H1187.5V3418.4H1191.6V3441.9H1265.1V3464.7H1273.4V3475.7H1332.6V3488.1H1338.1V3499.7H1373.9V3512.3H1425.7V3529.4H1429.0V3543.2H1431.7V3564.6H1526.7V3579.0H1529.5V3596.0H1537.7V3614.8H1565.3V3636.2H1623.1V3656.1H1632.7V3679.5H1744.6V3717.9H1835.4V3763.2H1929.6V3809.4H2247.7" stroke="#e8a33d" stroke-width="6.6" fill="none"/>
<g fill="#e8a33d"><circle cx="787.7" cy="3172.0" r="8.4"/><circle cx="853.0" cy="3202.3" r="8.4"/><circle cx="955.7" cy="3286.8" r="8.4"/><circle cx="990.6" cy="3308.3" r="8.4"/><circle cx="1126.4" cy="3373.6" r="8.4"/><circle cx="1186.9" cy="3418.4" r="8.4"/><circle cx="1228.8" cy="3441.3" r="8.4"/><circle cx="1295.4" cy="3475.7" r="8.4"/><circle cx="1340.0" cy="3499.7" r="8.4"/><circle cx="1419.3" cy="3512.9" r="8.4"/><circle cx="1430.3" cy="3564.6" r="8.4"/><circle cx="1438.6" cy="3564.6" r="8.4"/><circle cx="1500.6" cy="3564.6" r="8.4"/><circle cx="1520.6" cy="3564.6" r="8.4"/><circle cx="1530.8" cy="3596.0" r="8.4"/><circle cx="1536.3" cy="3596.0" r="8.4"/><circle cx="1537.7" cy="3614.8" r="8.4"/><circle cx="1544.6" cy="3614.8" r="8.4"/><circle cx="1623.1" cy="3656.6" r="8.4"/><circle cx="1647.9" cy="3679.5" r="8.4"/><circle cx="1663.0" cy="3679.5" r="8.4"/><circle cx="1668.5" cy="3679.5" r="8.4"/><circle cx="1689.2" cy="3679.5" r="8.4"/><circle cx="1713.9" cy="3679.5" r="8.4"/><circle cx="1713.2" cy="3678.9" r="8.4"/><circle cx="1824.9" cy="3717.9" r="8.4"/><circle cx="2162.5" cy="3809.4" r="8.4"/><circle cx="2233.5" cy="3809.4" r="8.4"/><circle cx="2247.7" cy="3809.4" r="8.4"/></g>
<text x="35.8" y="91.4" font-size="71.5" font-weight="bold" textLength="47.5" lengthAdjust="spacingAndGlyphs">A</text>
<text y="91.4" font-size="57.5" font-weight="bold"><tspan x="125.1" textLength="421.6" lengthAdjust="spacingAndGlyphs">Progression-free</tspan> <tspan x="561.1" textLength="208.8" lengthAdjust="spacingAndGlyphs">Survival</tspan> <tspan x="783.3" textLength="49.2" lengthAdjust="spacingAndGlyphs">in</tspan> <tspan x="847.8" textLength="86.4" lengthAdjust="spacingAndGlyphs">the</tspan> <tspan x="949.7" textLength="266.5" lengthAdjust="spacingAndGlyphs">HER2-Low</tspan> <tspan x="1239.1" textLength="278.9" lengthAdjust="spacingAndGlyphs">Population</tspan></text>
<text x="666.0" y="257.7" font-size="56.5" textLength="87.8" lengthAdjust="spacingAndGlyphs">100</text>
<text x="695.3" y="322.6" font-size="56.5" textLength="58.5" lengthAdjust="spacingAndGlyphs">90</text>
<text x="695.3" y="387.5" font-size="56.5" textLength="58.5" lengthAdjust="spacingAndGlyphs">80</text>
<text x="695.3" y="452.4" font-size="56.5" textLength="58.5" lengthAdjust="spacingAndGlyphs">70</text>
<text x="695.3" y="517.3" font-size="56.5" textLength="58.5" lengthAdjust="spacingAndGlyphs">60</text>
<text x="695.3" y="582.2" font-size="56.5" textLength="58.5" lengthAdjust="spacingAndGlyphs">50</text>
<text x="695.3" y="647.2" font-size="56.5" textLength="58.5" lengthAdjust="spacingAndGlyphs">40</text>
<text x="695.3" y="712.1" font-size="56.5" textLength="58.5" lengthAdjust="spacingAndGlyphs">30</text>
<text x="695.3" y="777.0" font-size="56.5" textLength="58.5" lengthAdjust="spacingAndGlyphs">20</text>
<text x="695.3" y="841.9" font-size="56.5" textLength="58.5" lengthAdjust="spacingAndGlyphs">10</text>
<text x="724.5" y="906.8" font-size="56.5" textLength="29.3" lengthAdjust="spacingAndGlyphs">0</text>
<text x="773.4" y="972.0" font-size="56.5" textLength="29.3" lengthAdjust="spacingAndGlyphs">0</text>
<text x="919.6" y="972.0" font-size="56.5" textLength="29.3" lengthAdjust="spacingAndGlyphs">3</text>
<text x="1065.8" y="972.0" font-size="56.5" textLength="29.3" lengthAdjust="spacingAndGlyphs">6</text>
<text x="1212.0" y="972.0" font-size="56.5" textLength="29.3" lengthAdjust="spacingAndGlyphs">9</text>
<text x="1343.6" y="972.0" font-size="56.5" textLength="58.5" lengthAdjust="spacingAndGlyphs">12</text>
<text x="1489.8" y="972.0" font-size="56.5" textLength="58.5" lengthAdjust="spacingAndGlyphs">15</text>
<text x="1636.1" y="972.0" font-size="56.5" textLength="58.5" lengthAdjust="spacingAndGlyphs">18</text>
<text x="1782.3" y="972.0" font-size="56.5" textLength="58.5" lengthAdjust="spacingAndGlyphs">21</text>
<text x="1928.5" y="972.0" font-size="56.5" textLength="58.5" lengthAdjust="spacingAndGlyphs">24</text>
<text x="2074.7" y="972.0" font-size="56.5" textLength="58.5" lengthAdjust="spacingAndGlyphs">27</text>
<text x="2220.9" y="972.0" font-size="56.5" textLength="58.5" lengthAdjust="spacingAndGlyphs">30</text>
<text x="2367.2" y="972.0" font-size="56.5" textLength="58.5" lengthAdjust="spacingAndGlyphs">33</text>
<text x="2513.4" y="972.0" font-size="56.5" textLength="58.5" lengthAdjust="spacingAndGlyphs">36</text>
<text x="2659.6" y="972.0" font-size="56.5" textLength="58.5" lengthAdjust="spacingAndGlyphs">39</text>
<text x="1638.9" y="1076.0" font-size="57.5" font-weight="bold" textLength="199.7" lengthAdjust="spacingAndGlyphs">Months</text>
<text y="0.0" font-size="57.5" font-weight="bold" transform="translate(596.3 0) rotate(-90)"><tspan x="-852.0" textLength="283.4" lengthAdjust="spacingAndGlyphs">Percentage</tspan> <tspan x="-553.4" textLength="57.6" lengthAdjust="spacingAndGlyphs">of</tspan> <tspan x="-482.9" textLength="207.1" lengthAdjust="spacingAndGlyphs">Patients</tspan></text>
<text y="606.9" font-size="54.5"><tspan x="1577.1" textLength="321.8" lengthAdjust="spacingAndGlyphs">Trastuzumab</tspan> <tspan x="1914.5" textLength="262.2" lengthAdjust="spacingAndGlyphs">deruxtecan</tspan></text>
<text x="1150.4" y="753.4" font-size="54.5" textLength="354.1" lengthAdjust="spacingAndGlyphs">Chemotherapy</text>
<text x="3562.7" y="183.9" font-size="57.5" font-weight="bold" textLength="195.3" lengthAdjust="spacingAndGlyphs">Median</text>
<text x="3449.8" y="253.9" font-size="57.5" font-weight="bold" textLength="421.3" lengthAdjust="spacingAndGlyphs">Progression-free</text>
<text x="3555.8" y="324.4" font-size="57.5" font-weight="bold" textLength="208.0" lengthAdjust="spacingAndGlyphs">Survival</text>
<text y="396.6" font-size="57.5" font-weight="bold"><tspan x="3547.4" textLength="132.8" lengthAdjust="spacingAndGlyphs">(95%</tspan> <tspan x="3695.8" textLength="75.3" lengthAdjust="spacingAndGlyphs">CI)</tspan></text>
<text y="324.8" font-size="57.5" font-weight="bold"><tspan x="3197.1" textLength="94.9" lengthAdjust="spacingAndGlyphs">No.</tspan> <tspan x="3304.9" textLength="59.7" lengthAdjust="spacingAndGlyphs">of</tspan></text>
<text x="3172.9" y="395.5" font-size="57.5" font-weight="bold" textLength="208.0" lengthAdjust="spacingAndGlyphs">Patients</text>
<text x="3622.3" y="485.8" font-size="54.5" font-style="italic" textLength="74.3" lengthAdjust="spacingAndGlyphs">mo</text>
<text y="577.8" font-size="57.5" font-weight="bold"><tspan x="2460.6" textLength="342.1" lengthAdjust="spacingAndGlyphs">Trastuzumab</tspan> <tspan x="2818.7" textLength="297.4" lengthAdjust="spacingAndGlyphs">Deruxtecan</tspan></text>
<text x="2734.6" y="648.3" font-size="57.5" font-weight="bold" textLength="379.2" lengthAdjust="spacingAndGlyphs">Chemotherapy</text>
<text x="3232.7" y="577.8" font-size="56.5" textLength="86.1" lengthAdjust="spacingAndGlyphs">359</text>
<text x="3232.8" y="648.3" font-size="56.5" textLength="85.1" lengthAdjust="spacingAndGlyphs">354</text>
<text y="577.8" font-size="56.5"><tspan x="3463.9" textLength="101.1" lengthAdjust="spacingAndGlyphs">13.2</tspan> <tspan x="3583.4" textLength="269.5" lengthAdjust="spacingAndGlyphs">(11.4–15.2)</tspan></text>
<text y="648.3" font-size="56.5"><tspan x="3492.7" textLength="71.4" lengthAdjust="spacingAndGlyphs">8.1</tspan> <tspan x="3583.4" textLength="210.4" lengthAdjust="spacingAndGlyphs">(7.0–9.0)</tspan></text>
<text y="763.3" font-size="54.5"><tspan x="2950.7" textLength="176.2" lengthAdjust="spacingAndGlyphs">Hazard</tspan> <tspan x="3144.0" textLength="108.3" lengthAdjust="spacingAndGlyphs">ratio</tspan> <tspan x="3271.1" textLength="59.9" lengthAdjust="spacingAndGlyphs">for</tspan> <tspan x="3350.7" textLength="180.3" lengthAdjust="spacingAndGlyphs">disease</tspan> <tspan x="3548.0" textLength="286.2" lengthAdjust="spacingAndGlyphs">progression</tspan></text>
<text y="830.8" font-size="54.5"><tspan x="3008.5" textLength="49.9" lengthAdjust="spacingAndGlyphs">or</tspan> <tspan x="3075.6" textLength="147.8" lengthAdjust="spacingAndGlyphs">death,</tspan> <tspan x="3239.4" textLength="100.9" lengthAdjust="spacingAndGlyphs">0.62</tspan> <tspan x="3359.8" textLength="121.6" lengthAdjust="spacingAndGlyphs">(95%</tspan> <tspan x="3498.6" textLength="68.3" lengthAdjust="spacingAndGlyphs">CI,</tspan> <tspan x="3582.3" textLength="255.8" lengthAdjust="spacingAndGlyphs">0.52–0.75)</tspan></text>
<text x="2950.8" y="900.0" font-size="54.5" textLength="199.5" lengthAdjust="spacingAndGlyphs">P&lt;0.001</text>
<text y="1184.3" font-size="57.5" font-weight="bold"><tspan x="81.0" textLength="95.4" lengthAdjust="spacingAndGlyphs">No.</tspan> <tspan x="191.7" textLength="48.6" lengthAdjust="spacingAndGlyphs">at</tspan> <tspan x="258.3" textLength="105.7" lengthAdjust="spacingAndGlyphs">Risk</tspan></text>
<text y="1255.4" font-size="54.5"><tspan x="79.4" textLength="321.8" lengthAdjust="spacingAndGlyphs">Trastuzumab</tspan> <tspan x="416.8" textLength="262.2" lengthAdjust="spacingAndGlyphs">deruxtecan</tspan></text>
<text x="80.1" y="1321.5" font-size="54.5" textLength="352.3" lengthAdjust="spacingAndGlyphs">Chemotherapy</text>
<text x="744.0" y="1255.4" font-size="56.5" textLength="87.8" lengthAdjust="spacingAndGlyphs">359</text>
<text x="744.0" y="1321.5" font-size="56.5" textLength="87.8" lengthAdjust="spacingAndGlyphs">354</text>
<text x="890.2" y="1255.4" font-size="56.5" textLength="87.8" lengthAdjust="spacingAndGlyphs">310</text>
<text x="890.2" y="1321.5" font-size="56.5" textLength="87.8" lengthAdjust="spacingAndGlyphs">254</text>
<text x="1036.4" y="1255.4" font-size="56.5" textLength="87.8" lengthAdjust="spacingAndGlyphs">265</text>
<text x="1036.4" y="1321.5" font-size="56.5" textLength="87.8" lengthAdjust="spacingAndGlyphs">192</text>
<text x="1182.7" y="1255.4" font-size="56.5" textLength="87.8" lengthAdjust="spacingAndGlyphs">213</text>
<text x="1186.6" y="1321.5" font-size="56.5" textLength="83.9" lengthAdjust="spacingAndGlyphs">118</text>
<text x="1328.9" y="1255.4" font-size="56.5" textLength="87.8" lengthAdjust="spacingAndGlyphs">163</text>
<text x="1358.1" y="1321.5" font-size="56.5" textLength="58.5" lengthAdjust="spacingAndGlyphs">85</text>
<text x="1475.1" y="1255.4" font-size="56.5" textLength="87.8" lengthAdjust="spacingAndGlyphs">131</text>
<text x="1504.4" y="1321.5" font-size="56.5" textLength="58.5" lengthAdjust="spacingAndGlyphs">65</text>
<text x="1636.0" y="1255.4" font-size="56.5" textLength="58.5" lengthAdjust="spacingAndGlyphs">72</text>
<text x="1636.0" y="1321.5" font-size="56.5" textLength="58.5" lengthAdjust="spacingAndGlyphs">37</text>
<text x="1782.2" y="1255.4" font-size="56.5" textLength="58.5" lengthAdjust="spacingAndGlyphs">49</text>
<text x="1782.2" y="1321.5" font-size="56.5" textLength="58.5" lengthAdjust="spacingAndGlyphs">19</text>
<text x="1928.4" y="1255.4" font-size="56.5" textLength="58.5" lengthAdjust="spacingAndGlyphs">28</text>
<text x="1928.4" y="1321.5" font-size="56.5" textLength="58.5" lengthAdjust="spacingAndGlyphs">10</text>
<text x="2074.6" y="1255.4" font-size="56.5" textLength="58.5" lengthAdjust="spacingAndGlyphs">17</text>
<text x="2103.9" y="1321.5" font-size="56.5" textLength="29.3" lengthAdjust="spacingAndGlyphs">6</text>
<text x="2220.8" y="1255.4" font-size="56.5" textLength="58.5" lengthAdjust="spacingAndGlyphs">10</text>
<text x="2250.1" y="1321.5" font-size="56.5" textLength="29.3" lengthAdjust="spacingAndGlyphs">2</text>
<text x="2381.7" y="1255.4" font-size="56.5" textLength="29.3" lengthAdjust="spacingAndGlyphs">6</text>
<text x="2381.7" y="1321.5" font-size="56.5" textLength="29.3" lengthAdjust="spacingAndGlyphs">1</text>
<text x="2527.9" y="1255.4" font-size="56.5" textLength="29.3" lengthAdjust="spacingAndGlyphs">1</text>
<text x="2527.9" y="1321.5" font-size="56.5" textLength="29.3" lengthAdjust="spacingAndGlyphs">1</text>
<text x="2674.1" y="1255.4" font-size="56.5" textLength="29.3" lengthAdjust="spacingAndGlyphs">0</text>
<text x="2674.1" y="1321.5" font-size="56.5" textLength="29.3" lengthAdjust="spacingAndGlyphs">0</text>
<text x="38.4" y="1491.0" font-size="71.5" font-weight="bold" textLength="43.8" lengthAdjust="spacingAndGlyphs">B</text>
<text y="1491.0" font-size="57.5" font-weight="bold"><tspan x="125.1" textLength="421.6" lengthAdjust="spacingAndGlyphs">Progression-free</tspan> <tspan x="561.1" textLength="208.8" lengthAdjust="spacingAndGlyphs">Survival</tspan> <tspan x="783.3" textLength="49.2" lengthAdjust="spacingAndGlyphs">in</tspan> <tspan x="847.8" textLength="86.4" lengthAdjust="spacingAndGlyphs">the</tspan> <tspan x="948.3" textLength="452.4" lengthAdjust="spacingAndGlyphs">Intention-to-Treat</tspan> <tspan x="1420.9" textLength="278.2" lengthAdjust="spacingAndGlyphs">Population</tspan></text>
<text x="666.0" y="1663.5" font-size="56.5" textLength="87.8" lengthAdjust="spacingAndGlyphs">100</text>
<text x="695.3" y="1740.8" font-size="56.5" textLength="58.5" lengthAdjust="spacingAndGlyphs">90</text>
<text x="695.3" y="1818.2" font-size="56.5" textLength="58.5" lengthAdjust="spacingAndGlyphs">80</text>
<text x="695.3" y="1895.5" font-size="56.5" textLength="58.5" lengthAdjust="spacingAndGlyphs">70</text>
<text x="695.3" y="1972.8" font-size="56.5" textLength="58.5" lengthAdjust="spacingAndGlyphs">60</text>
<text x="695.3" y="2050.1" font-size="56.5" textLength="58.5" lengthAdjust="spacingAndGlyphs">50</text>
<text x="695.3" y="2127.5" font-size="56.5" textLength="58.5" lengthAdjust="spacingAndGlyphs">40</text>
<text x="695.3" y="2204.8" font-size="56.5" textLength="58.5" lengthAdjust="spacingAndGlyphs">30</text>
<text x="695.3" y="2282.1" font-size="56.5" textLength="58.5" lengthAdjust="spacingAndGlyphs">20</text>
<text x="695.3" y="2359.5" font-size="56.5" textLength="58.5" lengthAdjust="spacingAndGlyphs">10</text>
<text x="724.5" y="2436.8" font-size="56.5" textLength="29.3" lengthAdjust="spacingAndGlyphs">0</text>
<text x="773.4" y="2502.0" font-size="56.5" textLength="29.3" lengthAdjust="spacingAndGlyphs">0</text>
<text x="919.6" y="2502.0" font-size="56.5" textLength="29.3" lengthAdjust="spacingAndGlyphs">3</text>
<text x="1065.8" y="2502.0" font-size="56.5" textLength="29.3" lengthAdjust="spacingAndGlyphs">6</text>
<text x="1212.0" y="2502.0" font-size="56.5" textLength="29.3" lengthAdjust="spacingAndGlyphs">9</text>
<text x="1343.6" y="2502.0" font-size="56.5" textLength="58.5" lengthAdjust="spacingAndGlyphs">12</text>
<text x="1489.8" y="2502.0" font-size="56.5" textLength="58.5" lengthAdjust="spacingAndGlyphs">15</text>
<text x="1636.1" y="2502.0" font-size="56.5" textLength="58.5" lengthAdjust="spacingAndGlyphs">18</text>
<text x="1782.3" y="2502.0" font-size="56.5" textLength="58.5" lengthAdjust="spacingAndGlyphs">21</text>
<text x="1928.5" y="2502.0" font-size="56.5" textLength="58.5" lengthAdjust="spacingAndGlyphs">24</text>
<text x="2074.7" y="2502.0" font-size="56.5" textLength="58.5" lengthAdjust="spacingAndGlyphs">27</text>
<text x="2220.9" y="2502.0" font-size="56.5" textLength="58.5" lengthAdjust="spacingAndGlyphs">30</text>
<text x="2367.2" y="2502.0" font-size="56.5" textLength="58.5" lengthAdjust="spacingAndGlyphs">33</text>
<text x="2513.4" y="2502.0" font-size="56.5" textLength="58.5" lengthAdjust="spacingAndGlyphs">36</text>
<text x="2659.6" y="2502.0" font-size="56.5" textLength="58.5" lengthAdjust="spacingAndGlyphs">39</text>
<text x="1638.9" y="2606.0" font-size="57.5" font-weight="bold" textLength="199.7" lengthAdjust="spacingAndGlyphs">Months</text>
<text y="0.0" font-size="57.5" font-weight="bold" transform="translate(596.3 0) rotate(-90)"><tspan x="-2319.9" textLength="283.4" lengthAdjust="spacingAndGlyphs">Percentage</tspan> <tspan x="-2021.3" textLength="57.6" lengthAdjust="spacingAndGlyphs">of</tspan> <tspan x="-1950.8" textLength="207.1" lengthAdjust="spacingAndGlyphs">Patients</tspan></text>
<text y="2091.9" font-size="54.5"><tspan x="1577.1" textLength="321.8" lengthAdjust="spacingAndGlyphs">Trastuzumab</tspan> <tspan x="1914.5" textLength="262.2" lengthAdjust="spacingAndGlyphs">deruxtecan</tspan></text>
<text x="1150.4" y="2234.3" font-size="54.5" textLength="354.1" lengthAdjust="spacingAndGlyphs">Chemotherapy</text>
<text x="3562.7" y="1587.9" font-size="57.5" font-weight="bold" textLength="195.3" lengthAdjust="spacingAndGlyphs">Median</text>
<text x="3449.8" y="1657.9" font-size="57.5" font-weight="bold" textLength="421.3" lengthAdjust="spacingAndGlyphs">Progression-free</text>
<text x="3555.8" y="1728.4" font-size="57.5" font-weight="bold" textLength="208.0" lengthAdjust="spacingAndGlyphs">Survival</text>
<text y="1800.6" font-size="57.5" font-weight="bold"><tspan x="3547.4" textLength="132.8" lengthAdjust="spacingAndGlyphs">(95%</tspan> <tspan x="3695.8" textLength="75.3" lengthAdjust="spacingAndGlyphs">CI)</tspan></text>
<text y="1728.8" font-size="57.5" font-weight="bold"><tspan x="3197.1" textLength="94.9" lengthAdjust="spacingAndGlyphs">No.</tspan> <tspan x="3304.9" textLength="59.7" lengthAdjust="spacingAndGlyphs">of</tspan></text>
<text x="3172.9" y="1799.5" font-size="57.5" font-weight="bold" textLength="208.0" lengthAdjust="spacingAndGlyphs">Patients</text>
<text x="3622.3" y="1889.8" font-size="54.5" font-style="italic" textLength="74.3" lengthAdjust="spacingAndGlyphs">mo</text>
<text y="1981.8" font-size="57.5" font-weight="bold"><tspan x="2460.6" textLength="342.1" lengthAdjust="spacingAndGlyphs">Trastuzumab</tspan> <tspan x="2818.7" textLength="297.4" lengthAdjust="spacingAndGlyphs">Deruxtecan</tspan></text>
<text x="2734.6" y="2052.3" font-size="57.5" font-weight="bold" textLength="379.2" lengthAdjust="spacingAndGlyphs">Chemotherapy</text>
<text x="3231.6" y="1981.8" font-size="56.5" textLength="87.1" lengthAdjust="spacingAndGlyphs">436</text>
<text x="3231.6" y="2052.3" font-size="56.5" textLength="88.0" lengthAdjust="spacingAndGlyphs">430</text>
<text y="1981.8" font-size="56.5"><tspan x="3463.9" textLength="101.1" lengthAdjust="spacingAndGlyphs">13.2</tspan> <tspan x="3583.4" textLength="269.4" lengthAdjust="spacingAndGlyphs">(12.0–15.2)</tspan></text>
<text y="2052.3" font-size="56.5"><tspan x="3492.7" textLength="71.4" lengthAdjust="spacingAndGlyphs">8.1</tspan> <tspan x="3583.4" textLength="210.4" lengthAdjust="spacingAndGlyphs">(7.0–9.0)</tspan></text>
<text y="2167.3" font-size="54.5"><tspan x="2950.7" textLength="176.2" lengthAdjust="spacingAndGlyphs">Hazard</tspan> <tspan x="3144.0" textLength="108.3" lengthAdjust="spacingAndGlyphs">ratio</tspan> <tspan x="3271.1" textLength="59.9" lengthAdjust="spacingAndGlyphs">for</tspan> <tspan x="3350.7" textLength="180.3" lengthAdjust="spacingAndGlyphs">disease</tspan> <tspan x="3548.0" textLength="286.2" lengthAdjust="spacingAndGlyphs">progression</tspan></text>
<text y="2234.8" font-size="54.5"><tspan x="3008.5" textLength="49.9" lengthAdjust="spacingAndGlyphs">or</tspan> <tspan x="3075.6" textLength="147.8" lengthAdjust="spacingAndGlyphs">death,</tspan> <tspan x="3239.4" textLength="99.8" lengthAdjust="spacingAndGlyphs">0.64</tspan> <tspan x="3359.8" textLength="121.6" lengthAdjust="spacingAndGlyphs">(95%</tspan> <tspan x="3498.6" textLength="68.3" lengthAdjust="spacingAndGlyphs">CI,</tspan> <tspan x="3582.3" textLength="255.8" lengthAdjust="spacingAndGlyphs">0.54–0.76)</tspan></text>
<text x="2950.8" y="2304.0" font-size="54.5" textLength="199.5" lengthAdjust="spacingAndGlyphs">P&lt;0.001</text>
<text y="2714.3" font-size="57.5" font-weight="bold"><tspan x="81.0" textLength="95.4" lengthAdjust="spacingAndGlyphs">No.</tspan> <tspan x="191.7" textLength="48.6" lengthAdjust="spacingAndGlyphs">at</tspan> <tspan x="258.3" textLength="105.7" lengthAdjust="spacingAndGlyphs">Risk</tspan></text>
<text y="2785.4" font-size="54.5"><tspan x="79.4" textLength="321.8" lengthAdjust="spacingAndGlyphs">Trastuzumab</tspan> <tspan x="416.8" textLength="262.2" lengthAdjust="spacingAndGlyphs">deruxtecan</tspan></text>
<text x="80.1" y="2851.5" font-size="54.5" textLength="352.3" lengthAdjust="spacingAndGlyphs">Chemotherapy</text>
<text x="744.0" y="2785.4" font-size="56.5" textLength="87.8" lengthAdjust="spacingAndGlyphs">436</text>
<text x="744.0" y="2851.5" font-size="56.5" textLength="87.8" lengthAdjust="spacingAndGlyphs">430</text>
<text x="890.2" y="2785.4" font-size="56.5" textLength="87.8" lengthAdjust="spacingAndGlyphs">375</text>
<text x="890.2" y="2851.5" font-size="56.5" textLength="87.8" lengthAdjust="spacingAndGlyphs">306</text>
<text x="1036.4" y="2785.4" font-size="56.5" textLength="87.8" lengthAdjust="spacingAndGlyphs">319</text>
<text x="1036.4" y="2851.5" font-size="56.5" textLength="87.8" lengthAdjust="spacingAndGlyphs">224</text>
<text x="1182.7" y="2785.4" font-size="56.5" textLength="87.8" lengthAdjust="spacingAndGlyphs">258</text>
<text x="1182.7" y="2851.5" font-size="56.5" textLength="87.8" lengthAdjust="spacingAndGlyphs">142</text>
<text x="1328.9" y="2785.4" font-size="56.5" textLength="87.8" lengthAdjust="spacingAndGlyphs">199</text>
<text x="1328.9" y="2851.5" font-size="56.5" textLength="87.8" lengthAdjust="spacingAndGlyphs">103</text>
<text x="1475.1" y="2785.4" font-size="56.5" textLength="87.8" lengthAdjust="spacingAndGlyphs">156</text>
<text x="1504.4" y="2851.5" font-size="56.5" textLength="58.5" lengthAdjust="spacingAndGlyphs">79</text>
<text x="1636.0" y="2785.4" font-size="56.5" textLength="58.5" lengthAdjust="spacingAndGlyphs">82</text>
<text x="1636.0" y="2851.5" font-size="56.5" textLength="58.5" lengthAdjust="spacingAndGlyphs">44</text>
<text x="1782.2" y="2785.4" font-size="56.5" textLength="58.5" lengthAdjust="spacingAndGlyphs">56</text>
<text x="1782.2" y="2851.5" font-size="56.5" textLength="58.5" lengthAdjust="spacingAndGlyphs">25</text>
<text x="1928.4" y="2785.4" font-size="56.5" textLength="58.5" lengthAdjust="spacingAndGlyphs">32</text>
<text x="1928.4" y="2851.5" font-size="56.5" textLength="58.5" lengthAdjust="spacingAndGlyphs">13</text>
<text x="2074.6" y="2785.4" font-size="56.5" textLength="58.5" lengthAdjust="spacingAndGlyphs">21</text>
<text x="2103.9" y="2851.5" font-size="56.5" textLength="29.3" lengthAdjust="spacingAndGlyphs">7</text>
<text x="2224.7" y="2785.4" font-size="56.5" textLength="54.6" lengthAdjust="spacingAndGlyphs">11</text>
<text x="2250.1" y="2851.5" font-size="56.5" textLength="29.3" lengthAdjust="spacingAndGlyphs">2</text>
<text x="2381.7" y="2785.4" font-size="56.5" textLength="29.3" lengthAdjust="spacingAndGlyphs">6</text>
<text x="2381.7" y="2851.5" font-size="56.5" textLength="29.3" lengthAdjust="spacingAndGlyphs">1</text>
<text x="2527.9" y="2785.4" font-size="56.5" textLength="29.3" lengthAdjust="spacingAndGlyphs">1</text>
<text x="2527.9" y="2851.5" font-size="56.5" textLength="29.3" lengthAdjust="spacingAndGlyphs">1</text>
<text x="2674.1" y="2785.4" font-size="56.5" textLength="29.3" lengthAdjust="spacingAndGlyphs">0</text>
<text x="2674.1" y="2851.5" font-size="56.5" textLength="29.3" lengthAdjust="spacingAndGlyphs">0</text>
<text x="35.6" y="3026.3" font-size="71.5" font-weight="bold" textLength="45.6" lengthAdjust="spacingAndGlyphs">C</text>
<text y="3026.3" font-size="57.5" font-weight="bold"><tspan x="125.1" textLength="421.6" lengthAdjust="spacingAndGlyphs">Progression-free</tspan> <tspan x="561.1" textLength="208.8" lengthAdjust="spacingAndGlyphs">Survival</tspan> <tspan x="783.3" textLength="49.2" lengthAdjust="spacingAndGlyphs">in</tspan> <tspan x="847.8" textLength="86.4" lengthAdjust="spacingAndGlyphs">the</tspan> <tspan x="949.7" textLength="378.8" lengthAdjust="spacingAndGlyphs">HER2-Ultralow</tspan> <tspan x="1351.4" textLength="278.9" lengthAdjust="spacingAndGlyphs">Population</tspan></text>
<text x="666.0" y="3189.0" font-size="56.5" textLength="87.8" lengthAdjust="spacingAndGlyphs">100</text>
<text x="695.3" y="3266.4" font-size="56.5" textLength="58.5" lengthAdjust="spacingAndGlyphs">90</text>
<text x="695.3" y="3343.8" font-size="56.5" textLength="58.5" lengthAdjust="spacingAndGlyphs">80</text>
<text x="695.3" y="3421.1" font-size="56.5" textLength="58.5" lengthAdjust="spacingAndGlyphs">70</text>
<text x="695.3" y="3498.5" font-size="56.5" textLength="58.5" lengthAdjust="spacingAndGlyphs">60</text>
<text x="695.3" y="3575.8" font-size="56.5" textLength="58.5" lengthAdjust="spacingAndGlyphs">50</text>
<text x="695.3" y="3653.2" font-size="56.5" textLength="58.5" lengthAdjust="spacingAndGlyphs">40</text>
<text x="695.3" y="3730.5" font-size="56.5" textLength="58.5" lengthAdjust="spacingAndGlyphs">30</text>
<text x="695.3" y="3807.9" font-size="56.5" textLength="58.5" lengthAdjust="spacingAndGlyphs">20</text>
<text x="695.3" y="3885.2" font-size="56.5" textLength="58.5" lengthAdjust="spacingAndGlyphs">10</text>
<text x="724.5" y="3962.6" font-size="56.5" textLength="29.3" lengthAdjust="spacingAndGlyphs">0</text>
<text x="773.4" y="4027.8" font-size="56.5" textLength="29.3" lengthAdjust="spacingAndGlyphs">0</text>
<text x="919.6" y="4027.8" font-size="56.5" textLength="29.3" lengthAdjust="spacingAndGlyphs">3</text>
<text x="1065.8" y="4027.8" font-size="56.5" textLength="29.3" lengthAdjust="spacingAndGlyphs">6</text>
<text x="1212.0" y="4027.8" font-size="56.5" textLength="29.3" lengthAdjust="spacingAndGlyphs">9</text>
<text x="1343.6" y="4027.8" font-size="56.5" textLength="58.5" lengthAdjust="spacingAndGlyphs">12</text>
<text x="1489.8" y="4027.8" font-size="56.5" textLength="58.5" lengthAdjust="spacingAndGlyphs">15</text>
<text x="1636.1" y="4027.8" font-size="56.5" textLength="58.5" lengthAdjust="spacingAndGlyphs">18</text>
<text x="1782.3" y="4027.8" font-size="56.5" textLength="58.5" lengthAdjust="spacingAndGlyphs">21</text>
<text x="1928.5" y="4027.8" font-size="56.5" textLength="58.5" lengthAdjust="spacingAndGlyphs">24</text>
<text x="2074.7" y="4027.8" font-size="56.5" textLength="58.5" lengthAdjust="spacingAndGlyphs">27</text>
<text x="2220.9" y="4027.8" font-size="56.5" textLength="58.5" lengthAdjust="spacingAndGlyphs">30</text>
<text x="1419.5" y="4131.8" font-size="57.5" font-weight="bold" textLength="199.7" lengthAdjust="spacingAndGlyphs">Months</text>
<text y="0.0" font-size="57.5" font-weight="bold" transform="translate(596.3 0) rotate(-90)"><tspan x="-3845.6" textLength="283.4" lengthAdjust="spacingAndGlyphs">Percentage</tspan> <tspan x="-3547.0" textLength="57.6" lengthAdjust="spacingAndGlyphs">of</tspan> <tspan x="-3476.4" textLength="207.1" lengthAdjust="spacingAndGlyphs">Patients</tspan></text>
<text y="3611.0" font-size="54.5"><tspan x="1577.1" textLength="321.8" lengthAdjust="spacingAndGlyphs">Trastuzumab</tspan> <tspan x="1914.5" textLength="262.2" lengthAdjust="spacingAndGlyphs">deruxtecan</tspan></text>
<text x="1150.4" y="3729.5" font-size="54.5" textLength="354.1" lengthAdjust="spacingAndGlyphs">Chemotherapy</text>
<text x="3562.7" y="3122.9" font-size="57.5" font-weight="bold" textLength="195.3" lengthAdjust="spacingAndGlyphs">Median</text>
<text x="3449.8" y="3192.9" font-size="57.5" font-weight="bold" textLength="421.3" lengthAdjust="spacingAndGlyphs">Progression-free</text>
<text x="3555.8" y="3263.4" font-size="57.5" font-weight="bold" textLength="208.0" lengthAdjust="spacingAndGlyphs">Survival</text>
<text y="3335.6" font-size="57.5" font-weight="bold"><tspan x="3547.4" textLength="132.8" lengthAdjust="spacingAndGlyphs">(95%</tspan> <tspan x="3695.8" textLength="75.3" lengthAdjust="spacingAndGlyphs">CI)</tspan></text>
<text y="3263.8" font-size="57.5" font-weight="bold"><tspan x="3197.1" textLength="94.9" lengthAdjust="spacingAndGlyphs">No.</tspan> <tspan x="3304.9" textLength="59.7" lengthAdjust="spacingAndGlyphs">of</tspan></text>
<text x="3172.9" y="3334.5" font-size="57.5" font-weight="bold" textLength="208.0" lengthAdjust="spacingAndGlyphs">Patients</text>
<text x="3622.3" y="3424.8" font-size="54.5" font-style="italic" textLength="74.3" lengthAdjust="spacingAndGlyphs">mo</text>
<text y="3516.8" font-size="57.5" font-weight="bold"><tspan x="2460.6" textLength="342.1" lengthAdjust="spacingAndGlyphs">Trastuzumab</tspan> <tspan x="2818.7" textLength="297.4" lengthAdjust="spacingAndGlyphs">Deruxtecan</tspan></text>
<text x="2734.6" y="3587.3" font-size="57.5" font-weight="bold" textLength="379.2" lengthAdjust="spacingAndGlyphs">Chemotherapy</text>
<text x="3234.0" y="3516.8" font-size="56.5" textLength="57.0" lengthAdjust="spacingAndGlyphs">76</text>
<text x="3234.0" y="3587.3" font-size="56.5" textLength="57.0" lengthAdjust="spacingAndGlyphs">76</text>
<text y="3516.8" font-size="56.5"><tspan x="3479.4" textLength="100.2" lengthAdjust="spacingAndGlyphs">13.2</tspan> <tspan x="3597.6" textLength="241.0" lengthAdjust="spacingAndGlyphs">(9.8–17.3)</tspan></text>
<text y="3587.3" font-size="56.5"><tspan x="3507.4" textLength="70.7" lengthAdjust="spacingAndGlyphs">8.3</tspan> <tspan x="3597.6" textLength="241.0" lengthAdjust="spacingAndGlyphs">(5.8–15.2)</tspan></text>
<text y="3702.3" font-size="54.5"><tspan x="2950.7" textLength="176.2" lengthAdjust="spacingAndGlyphs">Hazard</tspan> <tspan x="3144.0" textLength="108.3" lengthAdjust="spacingAndGlyphs">ratio</tspan> <tspan x="3271.1" textLength="59.9" lengthAdjust="spacingAndGlyphs">for</tspan> <tspan x="3350.7" textLength="180.3" lengthAdjust="spacingAndGlyphs">disease</tspan> <tspan x="3548.0" textLength="286.2" lengthAdjust="spacingAndGlyphs">progression</tspan></text>
<text y="3769.8" font-size="54.5"><tspan x="3008.5" textLength="49.9" lengthAdjust="spacingAndGlyphs">or</tspan> <tspan x="3075.6" textLength="147.8" lengthAdjust="spacingAndGlyphs">death,</tspan> <tspan x="3239.4" textLength="100.6" lengthAdjust="spacingAndGlyphs">0.78</tspan> <tspan x="3359.8" textLength="121.6" lengthAdjust="spacingAndGlyphs">(95%</tspan> <tspan x="3498.6" textLength="68.3" lengthAdjust="spacingAndGlyphs">CI,</tspan> <tspan x="3582.3" textLength="255.8" lengthAdjust="spacingAndGlyphs">0.50–1.21)</tspan></text>
<text y="4240.1" font-size="57.5" font-weight="bold"><tspan x="81.0" textLength="95.4" lengthAdjust="spacingAndGlyphs">No.</tspan> <tspan x="191.7" textLength="48.6" lengthAdjust="spacingAndGlyphs">at</tspan> <tspan x="258.3" textLength="105.7" lengthAdjust="spacingAndGlyphs">Risk</tspan></text>
<text y="4311.2" font-size="54.5"><tspan x="79.4" textLength="321.8" lengthAdjust="spacingAndGlyphs">Trastuzumab</tspan> <tspan x="416.8" textLength="262.2" lengthAdjust="spacingAndGlyphs">deruxtecan</tspan></text>
<text x="80.1" y="4377.3" font-size="54.5" textLength="352.3" lengthAdjust="spacingAndGlyphs">Chemotherapy</text>
<text x="758.6" y="4311.2" font-size="56.5" textLength="58.5" lengthAdjust="spacingAndGlyphs">76</text>
<text x="758.6" y="4377.3" font-size="56.5" textLength="58.5" lengthAdjust="spacingAndGlyphs">76</text>
<text x="904.9" y="4311.2" font-size="56.5" textLength="58.5" lengthAdjust="spacingAndGlyphs">64</text>
<text x="904.9" y="4377.3" font-size="56.5" textLength="58.5" lengthAdjust="spacingAndGlyphs">52</text>
<text x="1051.1" y="4311.2" font-size="56.5" textLength="58.5" lengthAdjust="spacingAndGlyphs">53</text>
<text x="1051.1" y="4377.3" font-size="56.5" textLength="58.5" lengthAdjust="spacingAndGlyphs">32</text>
<text x="1197.3" y="4311.2" font-size="56.5" textLength="58.5" lengthAdjust="spacingAndGlyphs">44</text>
<text x="1197.3" y="4377.3" font-size="56.5" textLength="58.5" lengthAdjust="spacingAndGlyphs">24</text>
<text x="1343.5" y="4311.2" font-size="56.5" textLength="58.5" lengthAdjust="spacingAndGlyphs">35</text>
<text x="1343.5" y="4377.3" font-size="56.5" textLength="58.5" lengthAdjust="spacingAndGlyphs">18</text>
<text x="1489.7" y="4311.2" font-size="56.5" textLength="58.5" lengthAdjust="spacingAndGlyphs">24</text>
<text x="1489.7" y="4377.3" font-size="56.5" textLength="58.5" lengthAdjust="spacingAndGlyphs">14</text>
<text x="1650.6" y="4311.2" font-size="56.5" textLength="29.3" lengthAdjust="spacingAndGlyphs">9</text>
<text x="1650.6" y="4377.3" font-size="56.5" textLength="29.3" lengthAdjust="spacingAndGlyphs">7</text>
<text x="1796.8" y="4311.2" font-size="56.5" textLength="29.3" lengthAdjust="spacingAndGlyphs">6</text>
<text x="1796.8" y="4377.3" font-size="56.5" textLength="29.3" lengthAdjust="spacingAndGlyphs">6</text>
<text x="1943.0" y="4311.2" font-size="56.5" textLength="29.3" lengthAdjust="spacingAndGlyphs">3</text>
<text x="1943.0" y="4377.3" font-size="56.5" textLength="29.3" lengthAdjust="spacingAndGlyphs">3</text>
<text x="2089.2" y="4311.2" font-size="56.5" textLength="29.3" lengthAdjust="spacingAndGlyphs">3</text>
<text x="2089.2" y="4377.3" font-size="56.5" textLength="29.3" lengthAdjust="spacingAndGlyphs">1</text>
<text x="2235.5" y="4311.2" font-size="56.5" textLength="29.3" lengthAdjust="spacingAndGlyphs">0</text>
<text x="2235.5" y="4377.3" font-size="56.5" textLength="29.3" lengthAdjust="spacingAndGlyphs">0</text>
</svg>
</body></html>
